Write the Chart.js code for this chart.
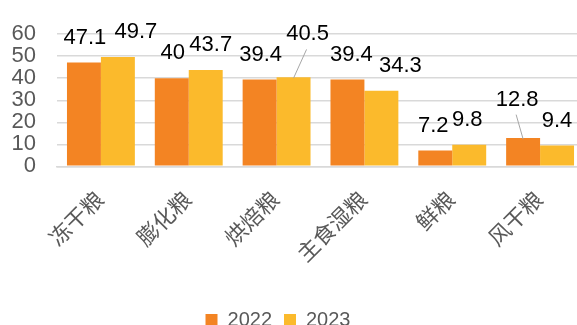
<!DOCTYPE html>
<html>
<head>
<meta charset="utf-8">
<script src="https://cdn.jsdelivr.net/npm/chart.js@4"></script>
<style>
  html, body { margin: 0; padding: 0; overflow: hidden; background: #fff; }
  #wrap { position: absolute; left: 0; top: 0; width: 600px; height: 340px; }
</style>
</head>
<body>
<div id="wrap"><canvas id="c"></canvas></div>
<script>
// ---- data ----
const categories = ['冻干粮', '膨化粮', '烘焙粮', '主食湿粮', '鲜粮', '风干粮'];
const seriesNames = ['2022', '2023'];
const values2022 = [47.1, 40, 39.4, 39.4, 7.2, 12.8];
const values2023 = [49.7, 43.7, 40.5, 34.3, 9.8, 9.4];
const yTicks = [0, 10, 20, 30, 40, 50, 60];

// ---- label placement (pixel nudges, separate from data) ----
const labelNudge2022 = [[1, 0], [1, 0], [1, 0], [4, 0], [-2, 0], [-6, -13.5]];
const labelNudge2023 = [[18, 0], [5, 0], [14, -17.7], [19, 0], [-2, 0], [0, 0]];
const leader2022 = [false, false, false, false, false, true];
const leader2023 = [false, false, true, false, false, false];

const FONT = '"Liberation Sans", Arial, "Noto Sans CJK SC", sans-serif';

const dataLabelPlugin = {
  id: 'dataLabels',
  afterDatasetsDraw(chart) {
    const ctx = chart.ctx;
    const nudges = [labelNudge2022, labelNudge2023];
    const leaders = [leader2022, leader2023];
    ctx.save();
    ctx.font = '22px ' + FONT;
    ctx.textAlign = 'center';
    ctx.textBaseline = 'middle';
    chart.data.datasets.forEach((ds, i) => {
      const meta = chart.getDatasetMeta(i);
      meta.data.forEach((bar, j) => {
        const [dx, dy] = nudges[i][j];
        const lx = bar.x + dx;
        const ly = bar.y - 25 + dy;
        if (leaders[i][j]) {
          ctx.strokeStyle = '#a6a6a6';
          ctx.lineWidth = 1;
          ctx.beginPath();
          ctx.moveTo(lx - 1, ly + 15);
          ctx.lineTo(bar.x, bar.y + 1);
          ctx.stroke();
        }
        ctx.fillStyle = '#000000';
        ctx.fillText(String(ds.data[j]), lx, ly);
      });
    });
    ctx.restore();
  }
};

const legendShift = {
  id: 'legendShift',
  afterLayout(chart) {
    if (chart.legend) {
      chart.legend.left -= 14;
      chart.legend.right -= 14;
    }
  }
};

new Chart(document.getElementById('c'), {
  type: 'bar',
  data: {
    labels: categories,
    datasets: [
      { label: seriesNames[0], data: values2022, backgroundColor: '#F38423' },
      { label: seriesNames[1], data: values2023, backgroundColor: '#FBBA2C' }
    ]
  },
  options: {
    responsive: true,
    maintainAspectRatio: false,
    animation: false,
    layout: { padding: { top: 25.8, right: 16, left: 0, bottom: 0 } },
    datasets: { bar: { categoryPercentage: 0.773, barPercentage: 1.0 } },
    scales: {
      x: {
        grid: { display: false },
        border: { display: true, color: '#d9d9d9', width: 1.5 },
        ticks: {
          color: '#595959',
          font: { family: FONT, size: 22 },
          minRotation: 45,
          maxRotation: 45,
          padding: 13
        },
        afterFit(scale) { scale.height = 131.7; }
      },
      y: {
        min: 0,
        max: 60,
        afterBuildTicks(scale) { scale.ticks = yTicks.map(v => ({ value: v })); },
        grid: { color: '#d9d9d9', lineWidth: 1.5, drawTicks: false },
        border: { display: false },
        ticks: {
          color: '#595959',
          font: { family: FONT, size: 22 },
          padding: 21,
          autoSkip: false
        },
        afterFit(scale) { scale.width = 57; }
      }
    },
    plugins: {
      legend: {
        position: 'bottom',
        labels: {
          boxWidth: 12,
          boxHeight: 12,
          padding: 12,
          color: '#595959',
          font: { family: FONT, size: 20 }
        }
      },
      tooltip: { enabled: false }
    }
  },
  plugins: [dataLabelPlugin, legendShift]
});
</script>
</body>
</html>
